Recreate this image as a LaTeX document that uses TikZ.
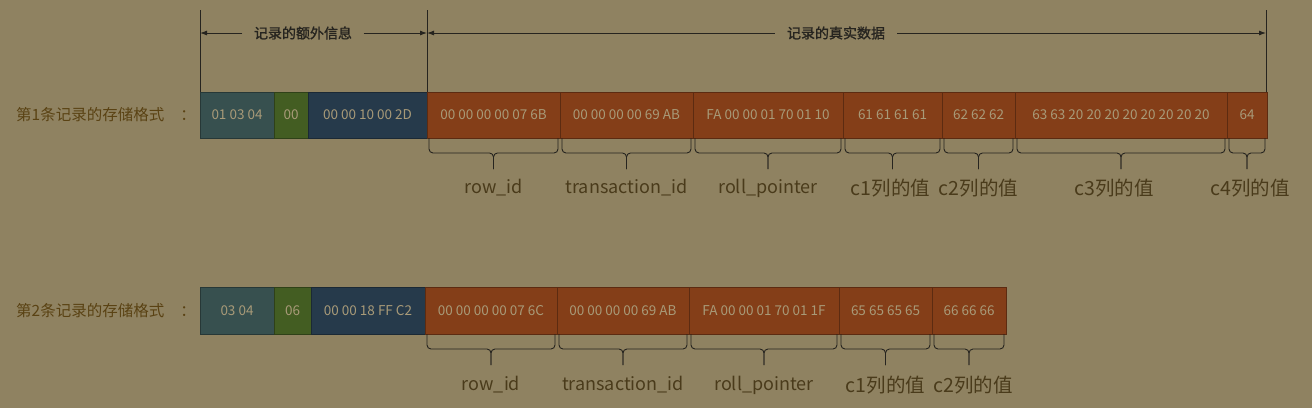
\documentclass[tikz,border=0pt]{standalone}
\usepackage{fontspec}
\setmainfont{Noto Sans CJK SC}
\newfontfamily\headfont[FakeBold=1.2]{Noto Sans CJK SC}
\usetikzlibrary{calc,arrows.meta}
\definecolor{bgc}{HTML}{8F8261}
\definecolor{tealc}{HTML}{37504F}
\definecolor{greenc}{HTML}{435D22}
\definecolor{navyc}{HTML}{263A4B}
\definecolor{orangec}{HTML}{843E18}
\definecolor{hexc}{HTML}{A89A78}
\definecolor{leftc}{HTML}{5A4213}
\definecolor{lblc}{HTML}{4A3B1B}
\definecolor{linec}{HTML}{26241F}
\newcommand\mybrace[1]{%
  \draw[brc] ([xshift=2pt]#1.south west) |- ($(#1.south)+(0,-15pt)$) -- ++(0,-16pt);
  \draw[brc] ([xshift=-2pt]#1.south east) |- ($(#1.south)+(0,-15pt)$) -- ++(0,-16pt);}
\begin{document}
\begin{tikzpicture}[x=1pt,y=-1pt,
  box/.style={draw=#1!70!black, fill=#1, line width=0.8pt, inner sep=0pt, outer sep=0pt,
    anchor=north west, text=hexc, font=\fontsize{13.5}{15}\selectfont},
  r1/.style={minimum height=46pt},
  r2/.style={minimum height=47pt},
  brc/.style={draw=linec, line width=0.9pt, rounded corners=4pt},
  dim/.style={draw=linec, line width=0.9pt, -{Latex[length=7pt,width=5pt]}},
  vline/.style={draw=linec, line width=0.9pt},
  head/.style={text=linec, font=\headfont\fontsize{14}{16}\selectfont, inner ysep=0pt, inner xsep=11.5pt},
  lbl/.style={text=lblc, font=\fontsize{18}{20}\selectfont, inner sep=0pt},
  cval/.style={lbl, font=\fontsize{19.5}{21}\selectfont},
  left/.style={text=leftc, font=\fontsize{15.5}{18}\selectfont, inner sep=0pt, anchor=west}]
\fill[bgc] (0,0) rectangle (1312,408);
\useasboundingbox (0,0) rectangle (1312,408);

% row 1
\node[left] (L1) at (16,115) {第1条记录的存储格式\kern16pt ：};
\node[box=tealc, r1, minimum width=74pt] (r1a) at (200,92) {01 03 04};
\node[box=greenc, r1, minimum width=34pt] (r1b) at (r1a.north east) {00};
\node[box=navyc, r1, minimum width=119pt] (r1c) at (r1b.north east) {00 00 10 00 2D};
\node[box=orangec, r1, minimum width=133pt] (r1d) at (r1c.north east) {00 00 00 00 07 6B};
\node[box=orangec, r1, minimum width=133pt] (r1e) at (r1d.north east) {00 00 00 00 69 AB};
\node[box=orangec, r1, minimum width=150pt] (r1f) at (r1e.north east) {FA 00 00 01 70 01 10};
\node[box=orangec, r1, minimum width=99pt] (r1g) at (r1f.north east) {61 61 61 61};
\node[box=orangec, r1, minimum width=73pt] (r1h) at (r1g.north east) {62 62 62};
\node[box=orangec, r1, minimum width=212pt] (r1i) at (r1h.north east) {63 63 20 20 20 20 20 20 20 20};
\node[box=orangec, r1, minimum width=40pt] (r1j) at (r1i.north east) {64};

% dimension lines
\coordinate (t1) at (200,10);
\coordinate (t2) at (427,10);
\coordinate (t3) at (1266,10);
\draw[vline] (t1) -- (r1a.north west);
\draw[vline] (t2) -- (r1d.north west);
\draw[vline] (t3) -- (t3 |- r1j.north);
\node[head] (h1) at (303,33) {记录的额外信息};
\node[head, inner xsep=12pt] (h2) at (836,33) {记录的真实数据};
\draw[dim] (h1.west) -- (h1.west -| t1);
\draw[dim] (h1.east) -- (h1.east -| t2);
\draw[dim] (h2.west) -- (h2.west -| t2);
\draw[dim] (h2.east) -- (h2.east -| t3);

% braces row 1
\foreach \n in {r1d,r1e,r1f,r1g,r1h,r1i,r1j} {\mybrace{\n}}
\node[lbl] (l1d) at ($(r1d.south)+(0,-50pt)$) {row\_id};
\node[lbl] (l1e) at ($(r1e.south)+(0,-50pt)$) {transaction\_id};
\node[lbl] (l1f) at ($(r1f.south)+(0,-50pt)$) {roll\_pointer};
\node[cval] (l1g) at ($(r1g.south)+(-2,-50pt)$) {c1列的值};
\node[cval] (l1h) at ($(r1h.south)+(0,-50pt)$) {c2列的值};
\node[cval] (l1i) at ($(r1i.south)+(-7,-50pt)$) {c3列的值};
\node[cval] (l1j) at ($(r1j.south)+(3,-50pt)$) {c4列的值};

% row 2
\node[left] (L2) at (16,311) {第2条记录的存储格式\kern16pt ：};
\node[box=tealc, r2, minimum width=74pt] (r2a) at (200,287) {03 04};
\node[box=greenc, r2, minimum width=37pt] (r2b) at (r2a.north east) {06};
\node[box=navyc, r2, minimum width=114pt] (r2c) at (r2b.north east) {00 00 18 FF C2};
\node[box=orangec, r2, minimum width=132pt] (r2d) at (r2c.north east) {00 00 00 00 07 6C};
\node[box=orangec, r2, minimum width=132pt] (r2e) at (r2d.north east) {00 00 00 00 69 AB};
\node[box=orangec, r2, minimum width=150pt] (r2f) at (r2e.north east) {FA 00 00 01 70 01 1F};
\node[box=orangec, r2, minimum width=93pt] (r2g) at (r2f.north east) {65 65 65 65};
\node[box=orangec, r2, minimum width=74pt] (r2h) at (r2g.north east) {66 66 66};

\foreach \n in {r2d,r2e,r2f,r2g,r2h} {\mybrace{\n}}
\node[lbl] (l2d) at ($(r2d.south)+(0,-51pt)$) {row\_id};
\node[lbl] (l2e) at ($(r2e.south)+(0,-51pt)$) {transaction\_id};
\node[lbl] (l2f) at ($(r2f.south)+(0,-51pt)$) {roll\_pointer};
\node[cval] (l2g) at ($(r2g.south)+(0,-51pt)$) {c1列的值};
\node[cval] (l2h) at ($(r2h.south)+(4,-51pt)$) {c2列的值};
\end{tikzpicture}
\end{document}
